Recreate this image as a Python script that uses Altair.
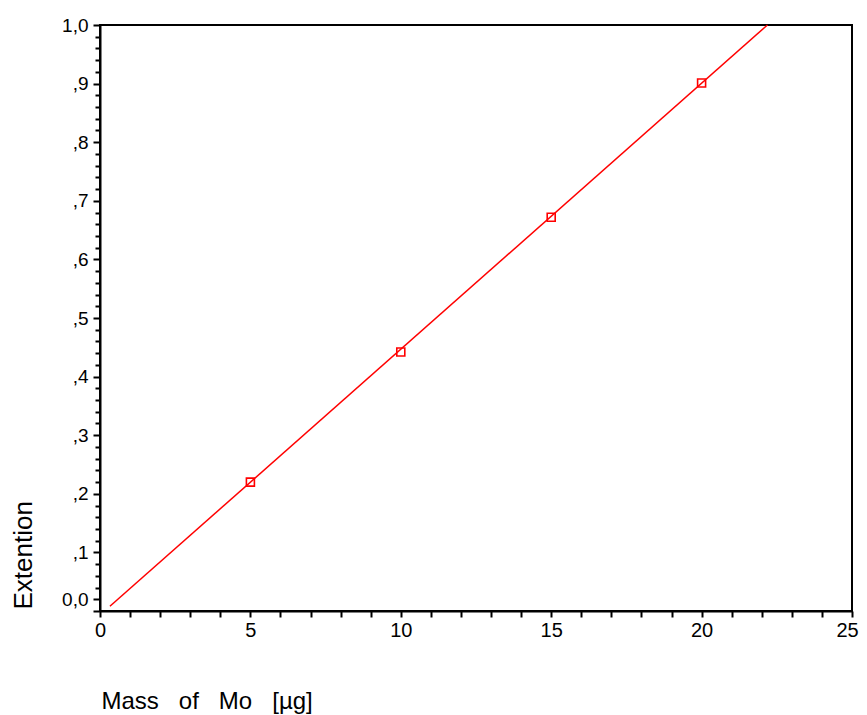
import altair as alt
import pandas as pd

# Data
mass = [5, 10, 15, 20]
extention = [0.220, 0.442, 0.672, 0.901]

# regression line endpoints (as drawn)
line_mass = [0.33, 22.19]
line_ext = [0.008, 1.0]

y_tick_values = [round(i * 0.02, 2) for i in range(0, 51)]
x_tick_values = list(range(0, 26))

df = pd.concat(
    [
        pd.DataFrame({"mass": mass, "ext": extention, "kind": "point"}),
        pd.DataFrame({"mass": line_mass, "ext": line_ext, "kind": "line"}),
    ],
    ignore_index=True,
)

FONT = "Arial"
NB = "\u00a0"

x_scale = alt.Scale(domain=[0, 25], nice=False, zero=False)
y_scale = alt.Scale(domain=[0, 1.0], nice=False, zero=False)

is_major_y = "(abs(datum.value*10 - round(datum.value*10)) < 0.001) || (abs(datum.value - 0.02) < 0.001)"

x_axis = alt.Axis(
    title=f"Mass{NB*3}of{NB*3}Mo{NB*3}[µg]",
    values=x_tick_values,
    labelExpr="datum.value % 5 === 0 ? datum.value : ''",
    labelOverlap=False,
    labelFlush=False,
    labelOffset={"condition": {"test": "datum.value >= 25", "value": -5}, "value": 0},
    grid=False,
    tickSize=6,
    tickWidth=2,
    tickColor="black",
    domainColor="black",
    domainWidth=2,
    labelFont=FONT,
    labelFontSize=20,
    labelColor="black",
    labelPadding=3,
    titleFont=FONT,
    titleFontSize=24,
    titleFontWeight="normal",
    titleColor="black",
    titleAnchor="start",
    titleAlign="left",
    titleBaseline="alphabetic",
    titleX=1,
    titleY=97,
)

y_axis = alt.Axis(
    title="Extention",
    values=y_tick_values,
    labelExpr=(
        "datum.value > 0.999 ? '1,0' : (abs(datum.value - 0.02) < 0.001 ? '0,0' : "
        "((abs(datum.value*10 - round(datum.value*10)) < 0.001 && datum.value > 0.05) ? ',' + round(datum.value*10) : ''))"
    ),
    labelOverlap=False,
    labelFlush=False,
    grid=False,
    tickSize={"condition": {"test": is_major_y, "value": 7}, "value": 5},
    tickWidth=2,
    tickColor="black",
    domainColor="black",
    domainWidth=2,
    labelFont=FONT,
    labelFontSize=19,
    labelColor="black",
    labelPadding=5,
    titleFont=FONT,
    titleFontSize=26,
    titleFontWeight="normal",
    titleColor="black",
    titleAngle=-90,
    titleAlign="left",
    titleBaseline="middle",
    titleX=-77,
    titleY=584,
)

base = alt.Chart(df).encode(
    x=alt.X("mass:Q", scale=x_scale, axis=x_axis),
    y=alt.Y("ext:Q", scale=y_scale, axis=y_axis),
)

line = base.transform_filter(alt.datum.kind == "line").mark_line(
    color="#ff0000", strokeWidth=1.5
)

points = base.transform_filter(alt.datum.kind == "point").mark_point(
    shape="square", filled=False, color="#ff0000", size=64, strokeWidth=1.6, opacity=1
)

chart = (
    alt.layer(line, points)
    .properties(
        width=752,
        height=586,
        autosize=alt.AutoSizeParams(type="none"),
        padding={"left": 92, "top": 17, "right": 7, "bottom": 104},
        background="white",
    )
    .configure_view(stroke="black", strokeWidth=2)
)

chart.save("out.html", embed_options={"renderer": "svg", "actions": False})
